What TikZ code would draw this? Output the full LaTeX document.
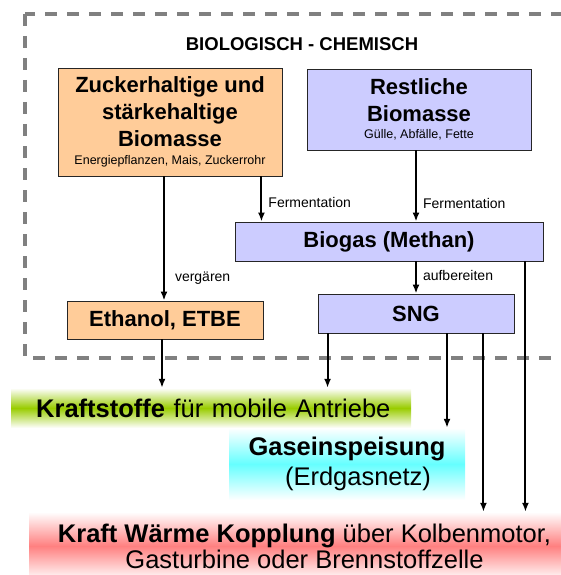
\documentclass[tikz,border=0pt]{standalone}
\usepackage{fontspec}
\setmainfont{Liberation Sans}
\usetikzlibrary{arrows.meta}
\definecolor{zuckerfill}{HTML}{FFCC99}
\definecolor{restfill}{HTML}{CCCCFF}
\definecolor{fuelgreen}{HTML}{99CC00}
\definecolor{gascyan}{HTML}{66FFFF}
\definecolor{kwkred}{HTML}{FF8080}
\begin{document}
\begin{tikzpicture}[x=1pt,y=-1pt,>={Latex[length=9pt,width=7pt]},
    box/.style={draw=black!85,line width=.9pt,inner sep=0pt,align=center,
      font=\fontsize{22}{27}\selectfont\bfseries},
    band/.style={inner sep=0pt,align=center,top color=white,bottom color=white,
      font=\fontsize{25.5}{26}\selectfont},
    arr/.style={->,line width=2pt},
    lbl/.style={font=\fontsize{14}{16}\selectfont,inner sep=0pt}]
  \useasboundingbox (0,0) rectangle (561,575);
  \clip (0,0) rectangle (561,575);
  % gestrichelter Rahmen
  \draw[gray,line width=4pt,dash pattern=on 12pt off 10pt] (25,14) rectangle (610,358);
  \node[font=\fontsize{18.5}{20}\selectfont\bfseries] (title) at (302,44) {BIOLOGISCH - CHEMISCH};
  % Ausgangsstoffe
  \node[box,fill=zuckerfill,minimum width=224,minimum height=108] (zucker) at (170,122)
    {Zuckerhaltige und\\stärkehaltige\\Biomasse\\[-9pt]
     {\fontsize{12.5}{14}\mdseries\selectfont Energiepflanzen, Mais, Zuckerrohr}};
  \node[box,fill=restfill,minimum width=224,minimum height=81] (rest) at (419,109.5)
    {Restliche\\Biomasse\\[-10pt]
     {\fontsize{12.5}{14}\mdseries\selectfont Gülle, Abfälle, Fette}};
  % Zwischenprodukte
  \node[box,fill=restfill,minimum width=308,minimum height=39] (biogas) at (389,241.5) {Biogas (Methan)};
  \node[box,fill=restfill,minimum width=196,minimum height=39] (sng) at (416,313.5) {SNG};
  \node[box,fill=zuckerfill,minimum width=196,minimum height=38] (ethanol) at (165,320) {Ethanol, ETBE};
  % Nutzung
  \node[band,middle color=fuelgreen,anchor=west,inner xsep=25pt,minimum height=40,
    text width=350,align=left] (fuel) at (11,408)
    {\mbox{\textbf{Kraftstoffe} für mobile Antriebe}};
  \node[band,middle color=gascyan,minimum width=236,minimum height=72,
    font=\fontsize{25.5}{30}\selectfont] (gas) at (347,464)
    {\textbf{Gaseinspeisung}\\\hspace*{22pt}(Erdgasnetz)};
  \node[band,middle color=kwkred,minimum width=551,minimum height=68] (kwk) at (304.5,546)
    {\textbf{Kraft Wärme Kopplung} über Kolbenmotor,\\Gasturbine oder Brennstoffzelle};
  % Pfeile
  \draw[arr] ([xshift=-1pt]ethanol.north |- zucker.south) -- ([xshift=-1pt]ethanol.north)
    node[lbl,pos=.82,right=10pt] {vergären};
  \draw[arr] ([xshift=-21pt]zucker.south east) -- ([xshift=-21pt]zucker.south east |- biogas.north)
    node[lbl,pos=.58,right=6pt] {Fermentation};
  \draw[arr] ([xshift=-3pt]rest.south) -- ([xshift=-3pt]rest.south |- biogas.north)
    node[lbl,pos=.74,right=6pt] {Fermentation};
  \draw[arr] (sng.north |- biogas.south) -- (sng.north)
    node[lbl,pos=.45,right=6pt] {aufbereiten};
  \draw[arr] ([xshift=-3pt]ethanol.south) -- ([xshift=-3pt]ethanol.south |- fuel.north);
  \draw[arr] ([xshift=10pt]sng.south west) -- ([xshift=10pt]sng.south west |- fuel.north);
  \draw[arr] ([xshift=31pt]sng.south) -- ([xshift=31pt]sng.south |- gas.north);
  \draw[arr] ([xshift=-31pt]sng.south east) -- ([xshift=-31pt]sng.south east |- kwk.north);
  \draw[arr] ([xshift=-18pt]biogas.south east) -- ([xshift=-18pt]biogas.south east |- kwk.north);
\end{tikzpicture}
\end{document}
